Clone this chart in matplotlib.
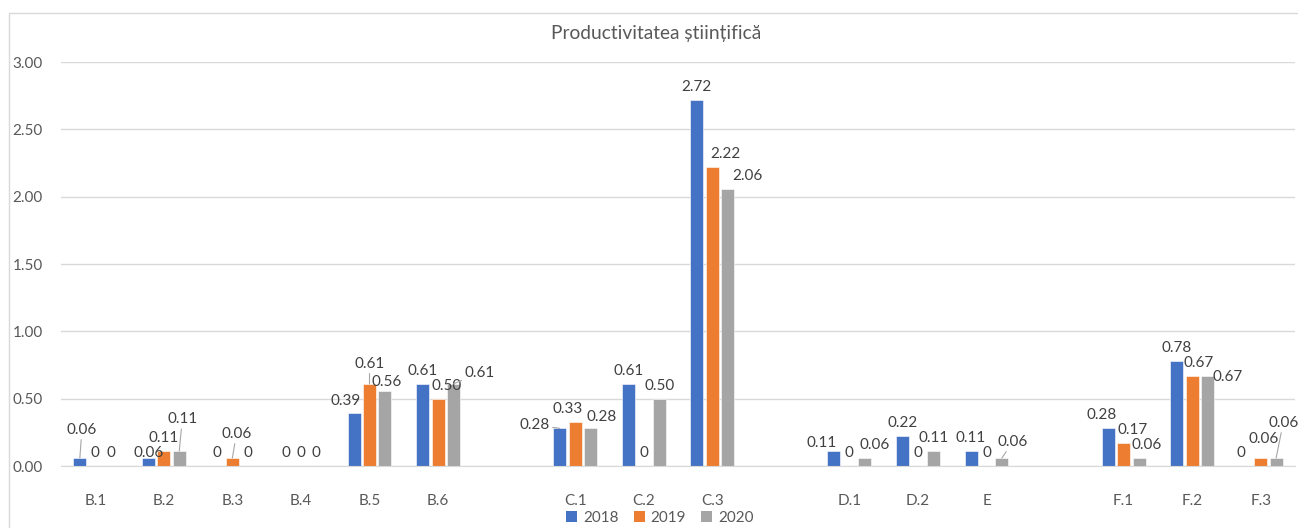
import numpy as np
import matplotlib.pyplot as plt
from matplotlib.patches import Rectangle, Patch

# chart data (blank entries are the gaps between groups)
categories = ['B.1', 'B.2', 'B.3', 'B.4', 'B.5', 'B.6', '',
              'C.1', 'C.2', 'C.3', '',
              'D.1', 'D.2', 'E', '',
              'F.1', 'F.2', 'F.3']
years = ['2018', '2019', '2020']
v2018 = [0.06, 0.06, 0, 0, 0.39, 0.61, None, 0.28, 0.61, 2.72, None, 0.11, 0.22, 0.11, None, 0.28, 0.78, 0]
v2019 = [0, 0.11, 0.06, 0, 0.61, 0.50, None, 0.33, 0, 2.22, None, 0, 0, 0, None, 0.17, 0.67, 0.06]
v2020 = [0, 0.11, 0, 0, 0.56, 0.61, None, 0.28, 0.50, 2.06, None, 0.06, 0.11, 0.06, None, 0.06, 0.67, 0.06]
series = [v2018, v2019, v2020]
colors = ['#4472C4', '#ED7D31', '#A5A5A5']

# hand-moved data labels: (series, category) -> (dx px, dy px, leader line)
nudges = {
    (0, 'B.1'): (2, 15, True),
    (0, 'B.2'): (0, -8, False),
    (2, 'B.2'): (3, 19, True),
    (1, 'B.3'): (4, 11, True),
    (0, 'B.5'): (-8, -1, False),
    (1, 'B.5'): (0, 7, True),
    (2, 'B.5'): (2, -4, False),
    (1, 'B.6'): (9, 0, False),
    (2, 'B.6'): (26, -2, True),
    (0, 'C.1'): (-25, -10, True),
    (1, 'C.1'): (-8, 0, False),
    (2, 'C.1'): (11, -2, False),
    (1, 'C.3'): (13, 0, False),
    (2, 'C.3'): (20, 0, False),
    (0, 'D.1'): (-12, -5, False),
    (2, 'D.1'): (10, 0, False),
    (2, 'E'): (11, 3, True),
    (0, 'F.1'): (-7, 0, False),
    (1, 'F.1'): (9, 0, False),
    (2, 'F.1'): (8, 0, False),
    (1, 'F.2'): (6, 0, False),
    (2, 'F.2'): (20, -14, False),
    (0, 'F.3'): (-4, 0, False),
    (1, 'F.3'): (3, 6, False),
    (2, 'F.3'): (7, 22, True),
}

plt.rcParams['font.family'] = ['Lato', 'DejaVu Sans']
text_color = '#595959'
grid_color = '#D9D9D9'

W, H = 1298, 528
fig = plt.figure(figsize=(W / 100, H / 100), dpi=100)
ax = fig.add_axes([61 / W, 62 / H, (1295 - 61) / W, 404 / H])

x = np.arange(len(categories))
step = 0.225
width = 0.19

for i, (vals, col, yr) in enumerate(zip(series, colors, years)):
    h = np.array([np.nan if v is None else v for v in vals], dtype=float)
    xs = x + (i - 1) * step
    ax.bar(xs, h, width=width, color=col, edgecolor='white', linewidth=0.4, label=yr, zorder=3)
    for xi, v, cat in zip(xs, vals, categories):
        if v is None:
            continue
        txt = '0' if v == 0 else f'{v:.2f}'
        dx, dy, leader = nudges.get((i, cat), (0, 0, False))
        props = None
        if leader:
            props = dict(arrowstyle='-', color='#A6A6A6', lw=0.8, shrinkA=0, shrinkB=0)
        ax.annotate(txt, xy=(xi, v), xytext=(dx, 13 + dy), textcoords='offset pixels',
                    ha='center', va='center', fontsize=11, color='#404040',
                    arrowprops=props, zorder=4)

ax.set_xlim(-0.5, len(categories) - 0.5)
ax.set_ylim(0, 3)
ax.set_yticks(np.arange(0, 3.01, 0.5))
ax.set_yticklabels([f'{t:.2f}' for t in np.arange(0, 3.01, 0.5)])
ax.set_xticks(x)
ax.set_xticklabels(categories)
ax.tick_params(axis='both', length=0, labelsize=11, labelcolor=text_color)
ax.tick_params(axis='x', pad=20)
ax.tick_params(axis='y', pad=13)
ax.grid(axis='y', color=grid_color, linewidth=1, zorder=0)
for s in ['top', 'right', 'left']:
    ax.spines[s].set_visible(False)
ax.spines['bottom'].set_color(grid_color)
ax.spines['bottom'].set_zorder(3.5)

# outer chart border (partly cut off by the crop)
fig.patches.append(Rectangle((9 / W, -0.1), 1.2, (H - 13) / H + 0.1, transform=fig.transFigure,
                             fill=False, edgecolor=grid_color, linewidth=1))

fig.text(656 / W, 1 - 33 / H, 'Productivitatea științifică', ha='center', va='center',
         fontsize=13.8, color=text_color)

handles = [Patch(facecolor=c, label=y) for c, y in zip(colors, years)]
fig.legend(handles=handles, loc='center', bbox_to_anchor=(660 / W, 1 - 518 / H), ncol=3,
           frameon=False, handlelength=0.7, handleheight=0.7, columnspacing=1.0,
           handletextpad=0.4, fontsize=11, labelcolor=text_color)

fig.savefig('out.png', dpi=100)
